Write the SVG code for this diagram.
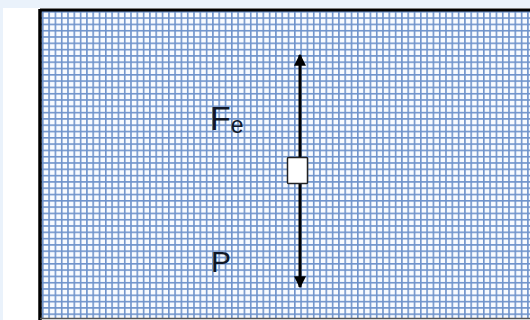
<svg xmlns="http://www.w3.org/2000/svg" width="530" height="320" viewBox="0 0 530 320">
  <defs>
    <pattern id="grid" x="42" y="11" width="6.3" height="6.3" patternUnits="userSpaceOnUse">
      <rect width="6.3" height="6.3" fill="#f8fbff"/>
      <rect x="0" y="0" width="1.6" height="6.3" fill="#6f93cb"/>
      <rect x="0" y="0" width="6.3" height="1.6" fill="#6f93cb"/>
    </pattern>
    <marker id="ah" viewBox="0 0 10 10" refX="9" refY="5" markerWidth="4.2" markerHeight="4" orient="auto-start-reverse" markerUnits="strokeWidth">
      <path d="M0,0 L10,5 L0,10 Z" fill="#000"/>
    </marker>
    <style>
      .lbl { font-family: "Liberation Sans", Arial, sans-serif; fill: #111827; }
    </style>
  </defs>
  <rect width="530" height="320" fill="#eaf2fb"/>
  <rect x="3" y="8" width="527" height="312" fill="#ffffff"/>
  <rect x="40" y="10" width="490" height="308" fill="url(#grid)"/>
  <g id="frame" fill="none" stroke="#000">
    <line x1="40" y1="10" x2="530" y2="10" stroke-width="3"/>
    <line x1="40" y1="9" x2="40" y2="320" stroke-width="3.5"/>
    <line x1="40" y1="318.5" x2="530" y2="318.5" stroke-width="1.5" stroke="#555"/>
  </g>
  <g id="connectors" stroke="#000" stroke-width="3" fill="none">
    <line x1="300" y1="157" x2="300" y2="55" marker-end="url(#ah)"/>
    <line x1="300" y1="184" x2="300" y2="287" marker-end="url(#ah)"/>
  </g>
  <g id="body">
    <rect x="287.5" y="157.5" width="20" height="26" fill="#ffffff" stroke="#222" stroke-width="1.5" rx="1"/>
  </g>
  <g id="label-fe">
    <text class="lbl" x="210" y="130" font-size="34">F<tspan font-size="23" dy="3">e</tspan></text>
  </g>
  <g id="label-p">
    <text class="lbl" x="211" y="272" font-size="30">P</text>
  </g>
</svg>
